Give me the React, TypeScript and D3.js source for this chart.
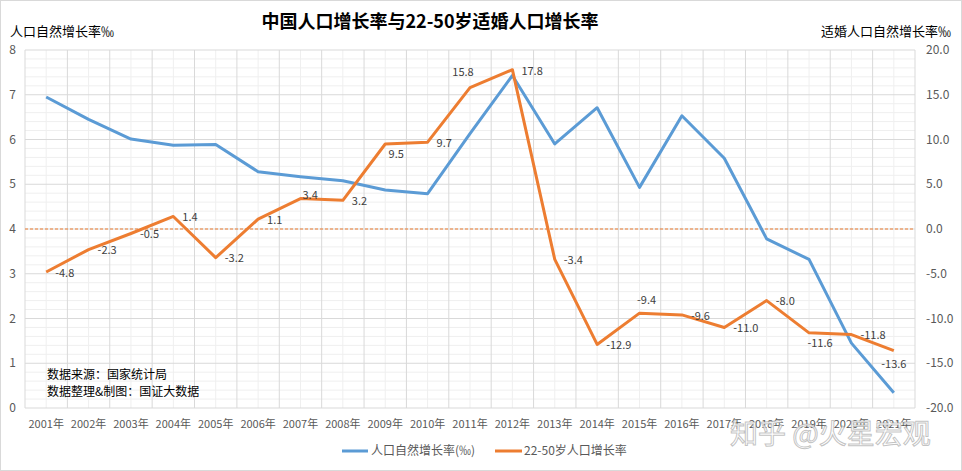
import React from "react";
import * as d3 from "d3";

const years = [
  "2001年", "2002年", "2003年", "2004年", "2005年", "2006年", "2007年",
  "2008年", "2009年", "2010年", "2011年", "2012年", "2013年", "2014年",
  "2015年", "2016年", "2017年", "2018年", "2019年", "2020年", "2021年",
];
const naturalGrowth = [
  6.95, 6.45, 6.01, 5.87, 5.89, 5.28, 5.17, 5.08, 4.87, 4.79, 6.13,
  7.43, 5.9, 6.71, 4.93, 6.53, 5.58, 3.78, 3.32, 1.45, 0.34,
];
const marriageAgeGrowth = [
  -4.8, -2.3, -0.5, 1.4, -3.2, 1.1, 3.4, 3.2, 9.5, 9.7, 15.8,
  17.8, -3.4, -12.9, -9.4, -9.6, -11.0, -8.0, -11.6, -11.8, -13.6,
];
const labelPlacement = [
  "r", "r", "r", "r", "r", "r", "ru", "r", "br", "r", "al",
  "r", "r", "r", "ar", "r", "r", "r", "br", "r", "b",
];
const leftTicks = [0, 1, 2, 3, 4, 5, 6, 7, 8];
const rightTicks = [20, 15, 10, 5, 0, -5, -10, -15, -20];

const title = "中国人口增长率与22-50岁适婚人口增长率";
const leftTitle = "人口自然增长率‰";
const rightTitle = "适婚人口自然增长率‰";
const seriesNames = ["人口自然增长率(‰)", "22-50岁人口增长率"];
const sourceLines = ["数据来源：国家统计局", "数据整理&制图：国证大数据"];
const watermark = "知乎 @火星宏观";

const W = 962;
const H = 471;
const L = 25;
const R = 915;
const T = 50;
const B = 408;
const BLUE = "#5B9BD5";
const ORANGE = "#ED7D31";
const FONT = "'Noto Sans CJK SC', 'Noto Sans', sans-serif";

const offsets: Record<string, { dx: number; dy: number; anchor: string }> = {
  r: { dx: 9, dy: 1, anchor: "start" },
  ru: { dx: 2, dy: -3, anchor: "start" },
  al: { dx: -7, dy: -15, anchor: "middle" },
  ar: { dx: 7, dy: -13, anchor: "middle" },
  br: { dx: 11, dy: 10, anchor: "middle" },
  b: { dx: 0, dy: 13, anchor: "middle" },
};

export default function App() {
  const x = d3.scaleBand<string>().domain(years).range([L, R]);
  const bw = x.bandwidth();
  const cx = (i: number) => (x(years[i]) as number) + bw / 2;
  const yL = d3.scaleLinear().domain([0, 8]).range([B, T]);
  const yR = d3.scaleLinear().domain([-20, 20]).range([B, T]);

  const blueLine = d3
    .line<number>()
    .x((_, i) => cx(i))
    .y((d) => yL(d))(naturalGrowth) as string;
  const orangeLine = d3
    .line<number>()
    .x((_, i) => cx(i))
    .y((d) => yR(d))(marriageAgeGrowth) as string;

  const minorY = d3.range(0, 8.0001, 0.2).filter((v) => Math.abs(v - Math.round(v)) > 1e-6);
  const boundaries = years.map((y) => x(y) as number).concat([R]);

  return (
    <svg
      width={W}
      height={H}
      style={{ position: "absolute", left: 0, top: 0, background: "#fff" }}
      fontFamily={FONT}
    >
      <rect x={0.5} y={0.5} width={W - 1} height={H - 1} fill="#fff" stroke="#d9d9d9" />

      {/* minor gridlines */}
      {minorY.map((v, i) => (
        <line key={"mh" + i} x1={L} x2={R} y1={yL(v)} y2={yL(v)} stroke="#efefef" strokeWidth={1} />
      ))}
      {years.map((_, i) => (
        <line key={"mv" + i} x1={cx(i)} x2={cx(i)} y1={T} y2={B} stroke="#efefef" strokeWidth={1} />
      ))}
      {/* major gridlines */}
      {leftTicks.map((v) => (
        <line key={"h" + v} x1={L} x2={R} y1={yL(v)} y2={yL(v)} stroke="#d9d9d9" strokeWidth={1} />
      ))}
      {boundaries.map((bx, i) => (
        <line key={"v" + i} x1={bx} x2={bx} y1={T} y2={B} stroke="#d9d9d9" strokeWidth={1} />
      ))}

      {/* zero reference line of right axis */}
      <line x1={L} x2={R} y1={yR(0)} y2={yR(0)} stroke={ORANGE} strokeWidth={1} strokeDasharray="3,2" />

      {/* left axis */}
      {leftTicks.map((v) => (
        <text key={"lt" + v} x={16} y={yL(v)} dy="0.35em" textAnchor="end" fontSize={12} fill="#595959">
          {v}
        </text>
      ))}
      {/* right axis */}
      {rightTicks.map((v) => (
        <text key={"rt" + v} x={926} y={yR(v)} dy="0.35em" textAnchor="start" fontSize={12} fill="#595959">
          {v.toFixed(1)}
        </text>
      ))}
      {/* x axis */}
      {years.map((y, i) => (
        <text key={"xt" + i} x={cx(i)} y={424} dy="0.35em" textAnchor="middle" fontSize={11} fill="#595959">
          {y}
        </text>
      ))}

      {/* axis titles & title */}
      <text x={10} y={31} dy="0.35em" fontSize={13} fill="#000">{leftTitle}</text>
      <text x={951} y={31} dy="0.35em" textAnchor="end" fontSize={13} fill="#000">{rightTitle}</text>
      <text x={430} y={22} dy="0.35em" textAnchor="middle" fontSize={18} fontWeight="bold" fill="#000">
        {title}
      </text>

      {/* series */}
      <path d={blueLine} fill="none" stroke={BLUE} strokeWidth={3} strokeLinejoin="round" />
      <path d={orangeLine} fill="none" stroke={ORANGE} strokeWidth={3} strokeLinejoin="round" />

      {/* data labels */}
      {marriageAgeGrowth.map((v, i) => {
        const o = offsets[labelPlacement[i]];
        return (
          <text
            key={"dl" + i}
            x={cx(i) + o.dx}
            y={yR(v) + o.dy}
            dy="0.35em"
            textAnchor={o.anchor as any}
            fontSize={11}
            fill="#404040"
          >
            {v.toFixed(1)}
          </text>
        );
      })}

      {/* source note */}
      {sourceLines.map((s, i) => (
        <text key={"src" + i} x={47} y={375 + i * 17} dy="0.35em" fontSize={12} fill="#000">
          {s}
        </text>
      ))}

      {/* legend */}
      <line x1={342} x2={368} y1={451} y2={451} stroke={BLUE} strokeWidth={3} />
      <text x={371} y={451} dy="0.35em" fontSize={12} fill="#595959">{seriesNames[0]}</text>
      <line x1={495} x2={522} y1={451} y2={451} stroke={ORANGE} strokeWidth={3} />
      <text x={524} y={451} dy="0.35em" fontSize={12} fill="#595959">{seriesNames[1]}</text>

      {/* watermark */}
      <text
        x={730}
        y={434}
        dy="0.35em"
        fontSize={28}
        fill="#ffffff"
        fillOpacity={0.85}
        stroke="#9a9a9a"
        strokeOpacity={0.6}
        strokeWidth={1}
      >
        {watermark}
      </text>
    </svg>
  );
}
